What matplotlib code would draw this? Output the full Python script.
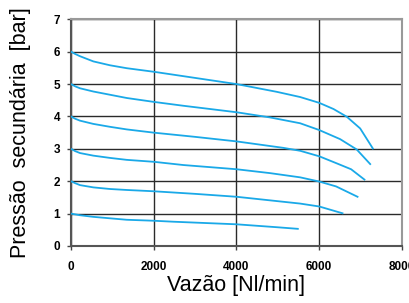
import matplotlib
matplotlib.use('Agg')
import matplotlib.pyplot as plt

# curvas de vazão (Nl/min) x pressão secundária (bar)
vazao_6 = [0, 100, 218, 540, 943, 1347, 2000, 3000, 4000, 4975, 5538, 6000, 6344, 6667, 6989, 7296]
pressao_6 = [6.0, 5.93, 5.86, 5.70, 5.58, 5.49, 5.38, 5.19, 5.0, 4.76, 4.60, 4.42, 4.23, 3.99, 3.63, 3.01]

vazao_5 = [0, 100, 218, 540, 943, 1347, 2000, 2716, 3361, 4000, 4812, 5538, 6000, 6504, 6906, 7231]
pressao_5 = [5.0, 4.93, 4.87, 4.77, 4.67, 4.57, 4.45, 4.33, 4.23, 4.13, 3.97, 3.79, 3.58, 3.30, 2.98, 2.53]

vazao_4 = [0, 100, 218, 540, 943, 1347, 2000, 3000, 4000, 5134, 5538, 6000, 6407, 6770, 7093]
pressao_4 = [4.0, 3.93, 3.87, 3.77, 3.68, 3.60, 3.50, 3.37, 3.23, 3.03, 2.94, 2.77, 2.56, 2.37, 2.05]

vazao_3 = [0, 100, 218, 540, 943, 1347, 2000, 2716, 4000, 4812, 5538, 6000, 6407, 6925]
pressao_3 = [3.0, 2.93, 2.87, 2.79, 2.72, 2.66, 2.60, 2.50, 2.37, 2.25, 2.12, 1.99, 1.84, 1.52]

vazao_2 = [0, 100, 218, 540, 943, 1347, 2000, 3000, 4000, 5538, 6000, 6562]
pressao_2 = [2.0, 1.94, 1.88, 1.81, 1.76, 1.73, 1.69, 1.61, 1.52, 1.31, 1.22, 1.01]

vazao_1 = [0, 218, 540, 1347, 2000, 2474, 4000, 4975, 5482]
pressao_1 = [1.0, 0.95, 0.90, 0.81, 0.78, 0.75, 0.67, 0.58, 0.53]

curvas = [(vazao_6, pressao_6), (vazao_5, pressao_5), (vazao_4, pressao_4),
          (vazao_3, pressao_3), (vazao_2, pressao_2), (vazao_1, pressao_1)]

xticks = [0, 2000, 4000, 6000, 8000]
yticks = [0, 1, 2, 3, 4, 5, 6, 7]

plt.rcParams['font.family'] = ['Liberation Sans', 'DejaVu Sans']

fig = plt.figure(figsize=(4.10, 3.03), dpi=100)
ax = fig.add_axes([71 / 410, 57 / 303, 331 / 410, 226.7 / 303])

for vx, py in curvas:
    ax.plot(vx, py, color='#1aa9e8', lw=1.3, zorder=3, solid_joinstyle='round')

ax.set_xlim(0, 8000)
ax.set_ylim(0, 7)
ax.set_xticks(xticks)
ax.set_yticks(yticks)
ax.grid(True, color='#2a2a2a', lw=1.0, zorder=1)
ax.tick_params(direction='out', length=3, width=1, color='#444444', pad=8)
for lbl in ax.get_xticklabels() + ax.get_yticklabels():
    lbl.set_fontweight('bold')
    lbl.set_fontsize(8.5)
ax.tick_params(axis='y', pad=5)

ax.spines['left'].set_color('#555555')
ax.spines['bottom'].set_color('#555555')
ax.spines['top'].set_color('#999999')
ax.spines['right'].set_color('#999999')
for s in ax.spines.values():
    s.set_linewidth(1.5)

ax.set_xlabel('Vazão [Nl/min]', fontsize=15.5, labelpad=1)
ax.set_ylabel('Pressão  secundária  [bar]', fontsize=15.5, labelpad=16)

fig.savefig('out.png', dpi=100)
